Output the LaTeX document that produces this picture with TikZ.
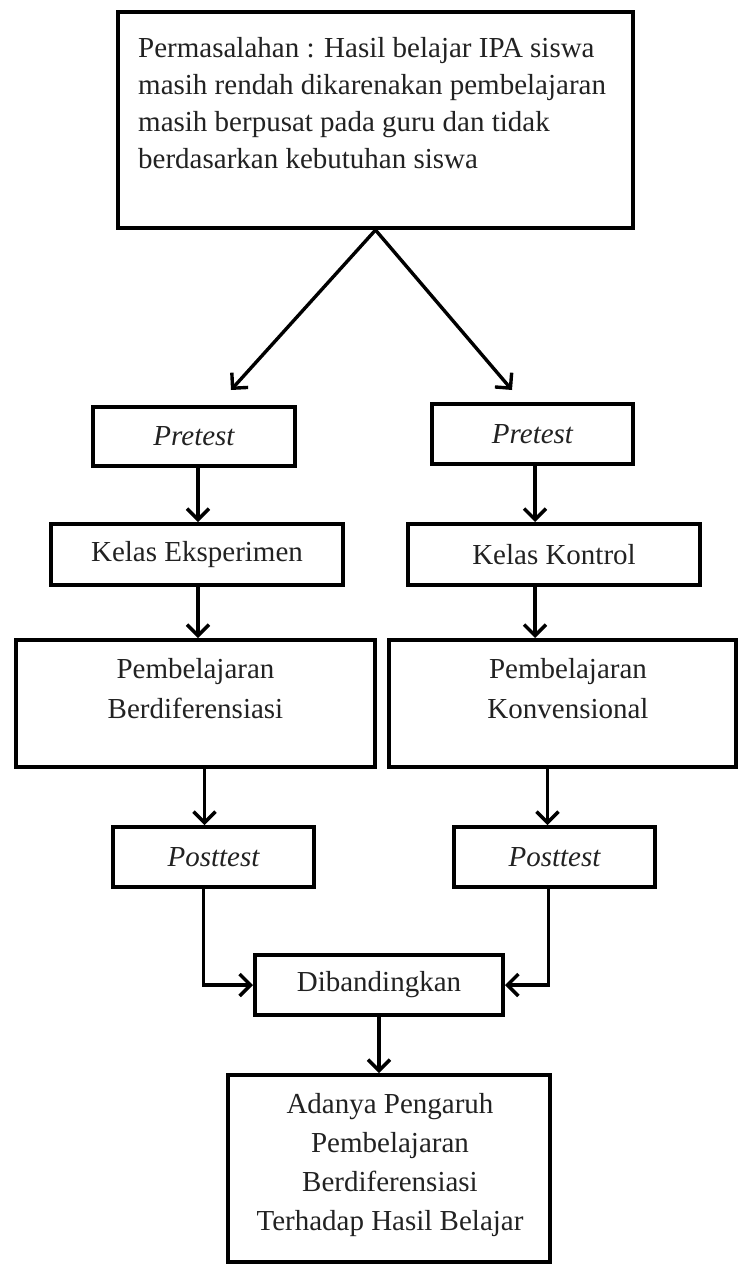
\documentclass[tikz,border=0pt]{standalone}
\usepackage{fontspec}
\setmainfont{Liberation Serif}
\usetikzlibrary{arrows.meta}
\definecolor{txt}{HTML}{222222}
\begin{document}
\begin{tikzpicture}[x=1pt,y=-1pt,
  box/.style={draw, line width=4pt, rectangle, inner sep=0pt, text=txt, font=\fontsize{29}{37}\selectfont},
  lbl/.style={font=\fontsize{29}{37}\selectfont, text=txt, inner sep=0pt},
  arr/.style={line width=3.4pt, -{Straight Barb[length=11pt,width=22pt]}},
]
\fill[white] (0,0) rectangle (739,1268);
\useasboundingbox (0,0) rectangle (739,1268);

% top box
\node[box, minimum width=515pt, minimum height=216pt] (top) at (375.5,120) {};
\node[lbl, align=left, anchor=north west] (toptxt) at (138,37)
  {Permasalahan : Hasil belajar IPA siswa\\
   masih rendah dikarenakan pembelajaran\\
   masih berpusat pada guru dan tidak\\
   berdasarkan kebutuhan siswa};

\coordinate (tipL) at (231,390);
\coordinate (tipR) at (512,390);
\draw[arr] (top.south) -- (tipL);
\draw[arr] (top.south) -- (tipR);

% pretest
\node[box, minimum width=202pt, minimum height=59pt, font=\fontsize{29}{37}\selectfont\itshape] (pL) at (194,436.5) {Pretest};
\node[box, minimum width=201pt, minimum height=60pt, font=\fontsize{29}{37}\selectfont\itshape] (pR) at (532.5,434) {Pretest};

% kelas
\node[box, minimum width=292pt, minimum height=61pt] (kL) at (197,554.5) {Kelas Eksperimen};
\node[box, minimum width=292pt, minimum height=61pt] (kR) at (554,554.5) {Kelas Kontrol};

% pembelajaran
\node[box, minimum width=359pt, minimum height=127pt] (bL) at (195.5,703.5) {};
\node[box, minimum width=347pt, minimum height=127pt] (bR) at (562.5,703.5) {};
\node[lbl, align=center, anchor=north, font=\fontsize{29}{40}\selectfont] (bLt) at (195.5,658) {Pembelajaran\\Berdiferensiasi};
\node[lbl, align=center, anchor=north, font=\fontsize{29}{40}\selectfont] (bRt) at (568,658) {Pembelajaran\\Konvensional};

% posttest
\node[box, minimum width=201pt, minimum height=60pt, font=\fontsize{29}{37}\selectfont\itshape] (qL) at (213.5,857) {Posttest};
\node[box, minimum width=201pt, minimum height=60pt, font=\fontsize{29}{37}\selectfont\itshape] (qR) at (554.5,857) {Posttest};

% dibandingkan
\node[box, minimum width=248pt, minimum height=60pt] (dib) at (379,985) {Dibandingkan};

% final
\node[box, minimum width=322pt, minimum height=187pt] (fin) at (389,1168.5) {};
\node[lbl, align=center, anchor=north, font=\fontsize{29}{39}\selectfont] (fint) at (390,1093)
  {Adanya Pengaruh\\Pembelajaran\\Berdiferensiasi\\Terhadap Hasil Belajar};

% connectors
\draw[arr] ([xshift=4]pL.south) -- ([xshift=4]pL.south |- kL.north);
\draw[arr] ([xshift=2.5]pR.south) -- ([xshift=2.5]pR.south |- kR.north);
\draw[arr] ([xshift=1]kL.south) -- ([xshift=1]kL.south |- bL.north);
\draw[arr] ([xshift=-19]kR.south) -- ([xshift=-19]kR.south |- bR.north);
\draw[arr] ([xshift=-9]qL.north |- bL.south) -- ([xshift=-9]qL.north);
\draw[arr] ([xshift=-7]qR.north |- bR.south) -- ([xshift=-7]qR.north);
\draw[arr] ([xshift=-10]qL.south) |- (dib.west);
\draw[arr] ([xshift=-6]qR.south) |- (dib.east);
\draw[arr] (dib.south) -- (dib.south |- fin.north);
\end{tikzpicture}
\end{document}
